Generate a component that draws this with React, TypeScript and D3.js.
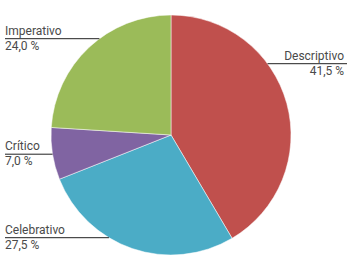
import React from "react";
import * as d3 from "d3";

const categories = ["Descriptivo", "Celebrativo", "Crítico", "Imperativo"];
const values = [41.5, 27.5, 7.0, 24.0];
const valueLabels = ["41,5 %", "27,5 %", "7,0 %", "24,0 %"];
const colors = ["#c0504d", "#4bacc6", "#8064a2", "#9bbb59"];

// layout: y of each label's leader line, and which side
const labelLineY = [63.7, 237.7, 154.2, 38.7];
const labelSide = ["right", "left", "left", "left"];

const W = 357;
const H = 270;
const cx = 171;
const cy = 135;
const R = 120;

export default function App() {
  const pie = d3.pie<number>().sort(null).value((d) => d)(values);
  const arc = d3.arc<d3.PieArcDatum<number>>().innerRadius(0).outerRadius(R);
  const font = "Roboto, 'DejaVu Sans', sans-serif";
  return (
    <svg
      width={W}
      height={H}
      style={{ position: "absolute", left: 0, top: 0, background: "#fff" }}
    >
      <g transform={`translate(${cx},${cy})`}>
        {pie.map((p, i) => (
          <path key={i} d={arc(p) || ""} fill={colors[i]} stroke="#fff" strokeWidth={0.5} />
        ))}
      </g>
      {categories.map((c, i) => {
        const y = labelLineY[i];
        const dy = y - cy;
        const dx = Math.sqrt(Math.max(0, R * R - dy * dy));
        const right = labelSide[i] === "right";
        const xEdge = right ? cx + dx : cx - dx;
        const xEnd = right ? 347 : 5;
        const anchor = right ? "end" : "start";
        const tx = right ? 344 : 5;
        return (
          <g key={c}>
            <line x1={xEdge} x2={xEnd} y1={y} y2={y} stroke="#222" strokeWidth={1} />
            <text x={tx} y={y - 4} fontFamily={font} fontSize={12} fill="#4a4a4a" textAnchor={anchor}>
              {c}
            </text>
            <text x={tx} y={y + 11} fontFamily={font} fontSize={12} fill="#4a4a4a" textAnchor={anchor}>
              {valueLabels[i]}
            </text>
          </g>
        );
      })}
    </svg>
  );
}
